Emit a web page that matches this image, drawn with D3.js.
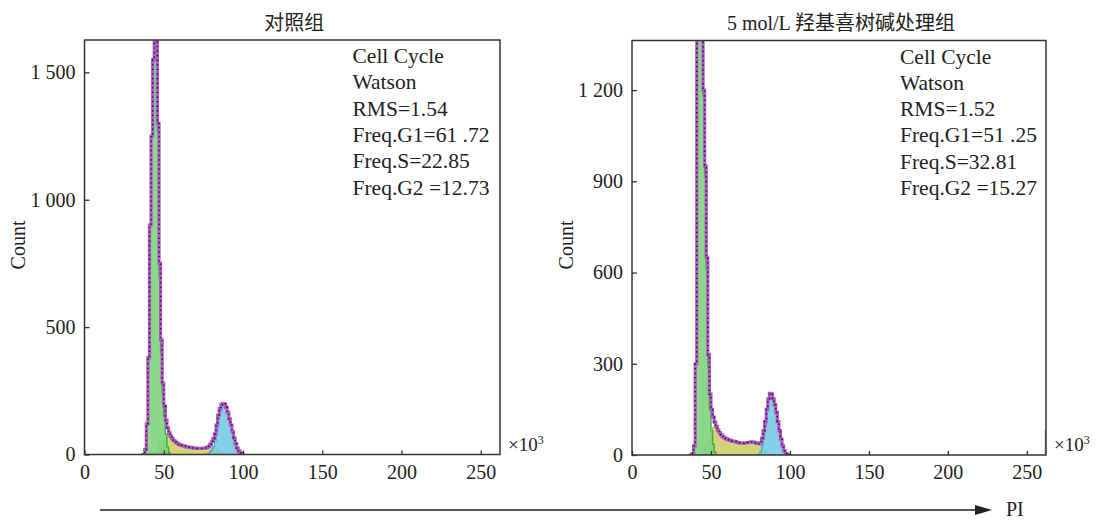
<!DOCTYPE html>
<html>
<head>
<meta charset="utf-8">
<title>Cell Cycle Watson</title>
<script src="https://d3js.org/d3.v7.min.js"></script>
<style>
  body { margin: 0; background: #fff; }
  svg { display: block; }
  text { font-family: "Liberation Serif", "Times New Roman", serif; fill: #222; }
  .cjk { font-family: "Liberation Serif", "Noto Sans CJK SC", serif; }
</style>
</head>
<body>
<svg width="1096" height="521"></svg>
<script>
// histogram bins, PI area x10^3, first bin starts at 36, width 1
var binStart = 36;
var binWidth = 1;
var xTicks = [0, 50, 100, 150, 200, 250];

// control group
var ctrlCounts = [0, 0, 20, 120, 380, 900, 1250, 1550, 1800, 1700,
  1300, 750, 450, 280, 190, 135, 105, 85, 72, 62,
  55, 49, 45, 41, 38, 36, 34, 32, 30, 29,
  28, 27, 26, 25, 25, 24, 24, 24, 24, 25,
  26, 28, 32, 40, 50, 62, 80, 115, 155, 180,
  195, 200, 198, 185, 165, 140, 115, 90, 65, 42,
  25, 14, 6, 2];
var ctrlG1 = [0, 0, 20, 120, 380, 900, 1250, 1545, 1790, 1680,
  1270, 700, 400, 230, 150, 80, 30, 8];
var ctrlS = [0, 0, 0, 0, 0, 0, 0, 5, 10, 20,
  30, 50, 50, 50, 40, 55, 75, 77, 72, 62,
  55, 49, 45, 41, 38, 36, 34, 32, 30, 29,
  28, 27, 26, 25, 25, 24, 24, 24, 24, 25,
  25, 26, 27, 28, 30, 30, 28, 24, 18, 12,
  7, 3, 1];
var ctrlG2 = [0, 0, 0, 0, 0, 0, 0, 0, 0, 0,
  0, 0, 0, 0, 0, 0, 0, 0, 0, 0,
  0, 0, 0, 0, 0, 0, 0, 0, 0, 0,
  0, 0, 0, 0, 0, 0, 0, 0, 0, 0,
  1, 2, 5, 12, 20, 32, 52, 91, 137, 168,
  188, 197, 197, 185, 165, 140, 115, 90, 65, 42,
  25, 14, 6, 2];
var ctrlYTicks = [0, 500, 1000, 1500];
var ctrlStats = ["Cell Cycle", "Watson", "RMS=1.54", "Freq.G1=61 .72", "Freq.S=22.85", "Freq.G2 =12.73"];

// 5 mol/L hydroxycamptothecin group
var hcptCounts = [0, 0, 5, 30, 300, 1600, 1700, 1500, 1400, 1200,
  950, 650, 330, 200, 150, 125, 108, 94, 82, 74,
  67, 61, 57, 54, 52, 50, 48, 46, 45, 44,
  42, 41, 40, 39, 39, 40, 40, 41, 42, 43,
  43, 42, 40, 38, 37, 40, 55, 80, 110, 150,
  185, 203, 200, 185, 165, 140, 110, 80, 52, 30,
  14, 5, 1, 0];
var hcptG1 = [0, 0, 5, 30, 300, 1600, 1700, 1495, 1385, 1180,
  920, 610, 290, 150, 80, 35, 10, 2];
var hcptS = [0, 0, 0, 0, 0, 0, 0, 5, 15, 20,
  30, 40, 40, 50, 70, 90, 98, 92, 82, 74,
  67, 61, 57, 54, 52, 50, 48, 46, 45, 44,
  42, 41, 40, 39, 39, 40, 40, 41, 42, 43,
  43, 42, 40, 37, 35, 30, 25, 20, 14, 8,
  3, 1];
var hcptG2 = [0, 0, 0, 0, 0, 0, 0, 0, 0, 0,
  0, 0, 0, 0, 0, 0, 0, 0, 0, 0,
  0, 0, 0, 0, 0, 0, 0, 0, 0, 0,
  0, 0, 0, 0, 0, 0, 0, 0, 0, 0,
  0, 0, 0, 1, 2, 10, 30, 60, 96, 142,
  182, 202, 199, 185, 165, 140, 110, 80, 52, 30,
  14, 5, 1, 0];
var hcptEdge = { x: 261.3, count: 80 };
var hcptYTicks = [0, 300, 600, 900, 1200];
var hcptStats = ["Cell Cycle", "Watson", "RMS=1.52", "Freq.G1=51 .25", "Freq.S=32.81", "Freq.G2 =15.27"];

var panels = [
  { id: "ctrl", title: "对照组", left: 84.5, right: 500, top: 40, bottom: 454.5, yMax: 1627,
    yTicks: ctrlYTicks, counts: ctrlCounts, g1: ctrlG1, s: ctrlS, g2: ctrlG2, stats: ctrlStats,
    countX: 18, edge: null },
  { id: "hcpt", title: "5 mol/L 羟基喜树碱处理组", left: 632, right: 1046, top: 40.5, bottom: 455, yMax: 1363,
    yTicks: hcptYTicks, counts: hcptCounts, g1: hcptG1, s: hcptS, g2: hcptG2, stats: hcptStats,
    countX: 566, edge: hcptEdge }
];

var svg = d3.select("svg");

function toBins(arr) {
  var pts = arr.map(function (c, i) { return { x: binStart + i * binWidth, y: c || 0 }; });
  pts.push({ x: binStart + arr.length * binWidth, y: 0 });
  return pts;
}

function fmt(d) { return d >= 1000 ? d3.format(",")(d).replace(",", " ") : String(d); }

panels.forEach(function (p) {
  var x = d3.scaleLinear().domain([0, 262.144]).range([p.left, p.right]);
  var y = d3.scaleLinear().domain([0, p.yMax]).range([p.bottom, p.top]);

  var g = svg.append("g");

  g.append("clipPath").attr("id", "clip-" + p.id)
    .append("rect")
    .attr("x", p.left).attr("y", p.top)
    .attr("width", p.right - p.left).attr("height", p.bottom - p.top);

  var plot = g.append("g").attr("clip-path", "url(#clip-" + p.id + ")");

  var area = d3.area().curve(d3.curveStepAfter)
    .x(function (d) { return x(d.x); })
    .y0(y(0))
    .y1(function (d) { return y(d.y); });
  var line = d3.line().curve(d3.curveStepAfter)
    .x(function (d) { return x(d.x); })
    .y(function (d) { return y(d.y); });

  plot.append("path").datum(toBins(p.s)).attr("d", area)
    .style("fill", "#d5d37a").style("stroke", "#c2bd45").style("stroke-width", 1);
  plot.append("path").datum(toBins(p.g2)).attr("d", area)
    .style("fill", "#79cbe4").style("fill-opacity", 0.9).style("stroke", "#3ba7d2").style("stroke-width", 1.2);
  plot.append("path").datum(toBins(p.g1)).attr("d", area)
    .style("fill", "#7ed47e").style("fill-opacity", 0.9).style("stroke", "#34b240").style("stroke-width", 1.4);

  plot.append("path").datum(toBins(p.counts)).attr("d", line)
    .style("fill", "none").style("stroke", "#b057c6").style("stroke-width", 3.2);
  plot.append("path").datum(toBins(p.counts)).attr("d", line)
    .style("fill", "none").style("stroke", "#151515").style("stroke-width", 1.5)
    .style("stroke-dasharray", "1.2,3.4");

  if (p.edge) {
    plot.append("rect")
      .attr("x", x(p.edge.x)).attr("y", y(p.edge.count))
      .attr("width", 2).attr("height", y(0) - y(p.edge.count))
      .style("fill", "#9a9a9a");
  }

  // axes
  var yAxis = d3.axisLeft(y).tickValues(p.yTicks).tickFormat(fmt).tickSizeInner(-5).tickSizeOuter(0).tickPadding(9);
  var ya = g.append("g").attr("transform", "translate(" + p.left + ",0)").call(yAxis);
  var xAxis = d3.axisBottom(x).tickValues(xTicks).tickSizeInner(-4).tickSizeOuter(0).tickPadding(10);
  var xa = g.append("g").attr("transform", "translate(0," + p.bottom + ")").call(xAxis);
  [ya, xa].forEach(function (a) {
    a.select(".domain").remove();
    a.selectAll(".tick line").style("stroke", "#333").style("stroke-width", 1.3);
    a.selectAll(".tick text").style("font-size", "20px").style("fill", "#222")
      .style("font-family", "'Liberation Serif','Times New Roman',serif");
  });

  g.append("rect")
    .attr("x", p.left).attr("y", p.top)
    .attr("width", p.right - p.left).attr("height", p.bottom - p.top)
    .style("fill", "none").style("stroke", "#333").style("stroke-width", 1.5);

  g.append("text").attr("class", "cjk")
    .attr("x", (p.left + p.right) / 2 + 2).attr("y", 30)
    .attr("text-anchor", "middle").style("font-size", "20px")
    .text(p.title);

  g.append("text")
    .attr("transform", "translate(" + p.countX + "," + 245 + ") rotate(-90)")
    .attr("text-anchor", "middle").attr("dy", "0.35em").style("font-size", "20px")
    .text("Count");

  var unit = g.append("text").attr("x", p.right + 8).attr("y", 451).style("font-size", "19px");
  unit.append("tspan").text("×10");
  unit.append("tspan").attr("dy", -7).style("font-size", "12px").text("3");

  g.append("g").selectAll("text").data(p.stats).enter().append("text")
    .attr("x", p.left + 268)
    .attr("y", function (d, i) { return p.top + 23 + i * 26.3; })
    .style("font-size", "21.5px")
    .text(function (d) { return d; });
});

// PI arrow under both panels
svg.append("line").attr("x1", 100).attr("x2", 978).attr("y1", 510).attr("y2", 510)
  .style("stroke", "#222").style("stroke-width", 1.5);
svg.append("path").attr("d", "M975,505 L992,510 L975,515 Z").style("fill", "#222");
svg.append("text").attr("x", 1006).attr("y", 516).style("font-size", "20px").text("PI");
</script>
</body>
</html>
